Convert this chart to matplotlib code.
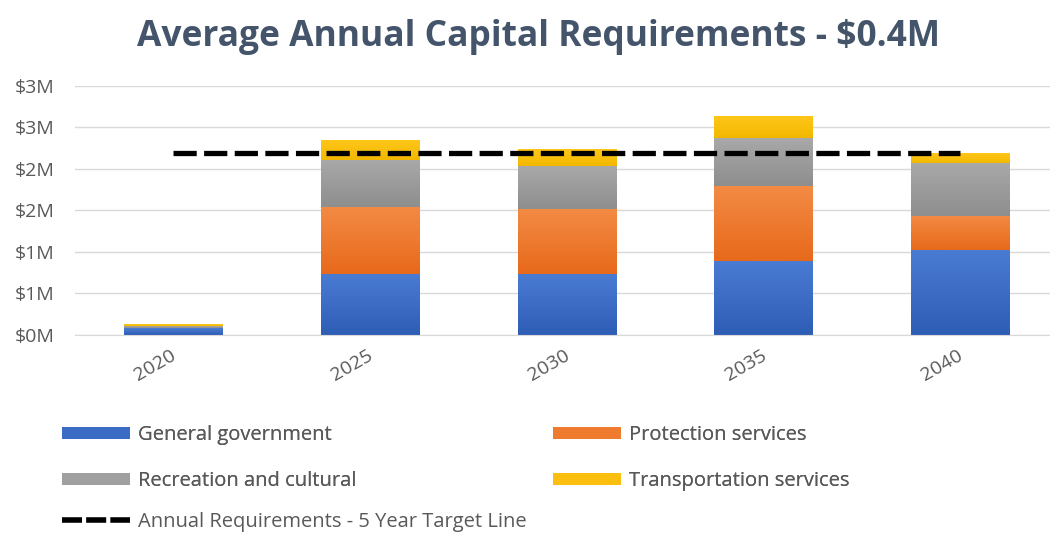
import numpy as np
import matplotlib
matplotlib.use("Agg")
import matplotlib.pyplot as plt
from matplotlib.patches import Patch
from matplotlib.lines import Line2D
from matplotlib.ticker import FuncFormatter, MultipleLocator
from matplotlib.colors import LinearSegmentedColormap
from matplotlib.transforms import ScaledTranslation

# Capital requirements by service area ($ millions)
years = ["2020", "2025", "2030", "2035", "2040"]
general_government = [0.08, 0.73, 0.73, 0.89, 1.02]
protection_services = [0.01, 0.81, 0.79, 0.90, 0.41]
recreation_cultural = [0.02, 0.57, 0.51, 0.58, 0.64]
transportation_services = [0.02, 0.24, 0.20, 0.26, 0.11]
target_line = 2.19

series = [
    ("General government", general_government, "#4a7bd3", "#2e5db5"),
    ("Protection services", protection_services, "#f38b44", "#e7691b"),
    ("Recreation and cultural", recreation_cultural, "#a9a9a9", "#8e8e8e"),
    ("Transportation services", transportation_services, "#ffc61a", "#f2b800"),
]

plt.rcParams["font.family"] = ["Open Sans", "DejaVu Sans"]

fig = plt.figure(figsize=(10.5, 5.33), dpi=100)
ax = fig.add_axes([75 / 1050, 1 - 335 / 533, 1 - 75 / 1050, (335 - 85.7) / 533])

x = np.arange(len(years))
width = 0.5
bottom = np.zeros(len(years))
grad = np.linspace(0, 1, 64).reshape(-1, 1)
for name, vals, c_top, c_bot in series:
    vals = np.asarray(vals)
    cmap = LinearSegmentedColormap.from_list(name, [c_bot, c_top])
    bars = ax.bar(x, vals, width, bottom=bottom, color="none", edgecolor="none", zorder=2)
    for rect in bars:
        x0, y0 = rect.get_x(), rect.get_y()
        w, h = rect.get_width(), rect.get_height()
        ax.imshow(grad, extent=(x0, x0 + w, y0, y0 + h), origin="lower",
                  cmap=cmap, aspect="auto", zorder=2, interpolation="bilinear")
    bottom = bottom + vals

ax.plot([x[0], x[-1]], [target_line, target_line], color="black", lw=3.8,
        dashes=(4.4, 1.4), zorder=3, dash_capstyle="butt")

ax.set_xlim(-0.5, 4.457)
ax.set_ylim(0, 3.0)
ax.yaxis.set_major_locator(MultipleLocator(0.5))
ax.yaxis.set_major_formatter(FuncFormatter(lambda v, p: f"${int(np.floor(v + 0.5))}M"))
ax.grid(axis="y", color="#d9d9d9", lw=1, zorder=0)
ax.set_axisbelow(True)
for s in ["top", "right", "left"]:
    ax.spines[s].set_visible(False)
ax.spines["bottom"].set_color("#d9d9d9")
ax.tick_params(axis="both", length=0, colors="#595959", labelsize=14)
ax.tick_params(axis="y", pad=15)
ax.set_xticks(x)
ax.set_xticklabels(years, rotation=30, ha="right", va="top", rotation_mode="anchor")
ax.tick_params(axis="x", pad=8)
shift = ScaledTranslation(-3 / 100, 0, fig.dpi_scale_trans)
for lbl in ax.get_xticklabels():
    lbl.set_transform(lbl.get_transform() + shift)

fig.text(0.513, 0.93, "Average Annual Capital Requirements - $0.4M",
         ha="center", va="center", fontsize=25.5, fontweight="bold", color="#44546a")

handles = [
    Patch(facecolor="#3a6cc6", label="General government"),
    Patch(facecolor="#a0a0a0", label="Recreation and cultural"),
    Patch(facecolor="#ee7b2e", label="Protection services"),
    Patch(facecolor="#fdbf0f", label="Transportation services"),
]
leg_kw = dict(frameon=False, fontsize=14.5, handlelength=3.38, handleheight=0.58,
              handletextpad=0.4, labelcolor="#595959", borderaxespad=0, borderpad=0)
leg1 = fig.legend(handles=handles, loc="upper left",
                  bbox_to_anchor=(62 / 1050, 1 - 425 / 533), ncol=2,
                  columnspacing=9.75, labelspacing=1.3, **leg_kw)
fig.add_artist(leg1)
line_handle = Line2D([0], [0], color="black", lw=4, dashes=(3.6, 0.75),
                     label="Annual Requirements - 5 Year Target Line")
fig.legend(handles=[line_handle], loc="upper left",
           bbox_to_anchor=(62 / 1050, 1 - 512 / 533), **leg_kw)

fig.savefig("out.png", dpi=100, facecolor="white")
